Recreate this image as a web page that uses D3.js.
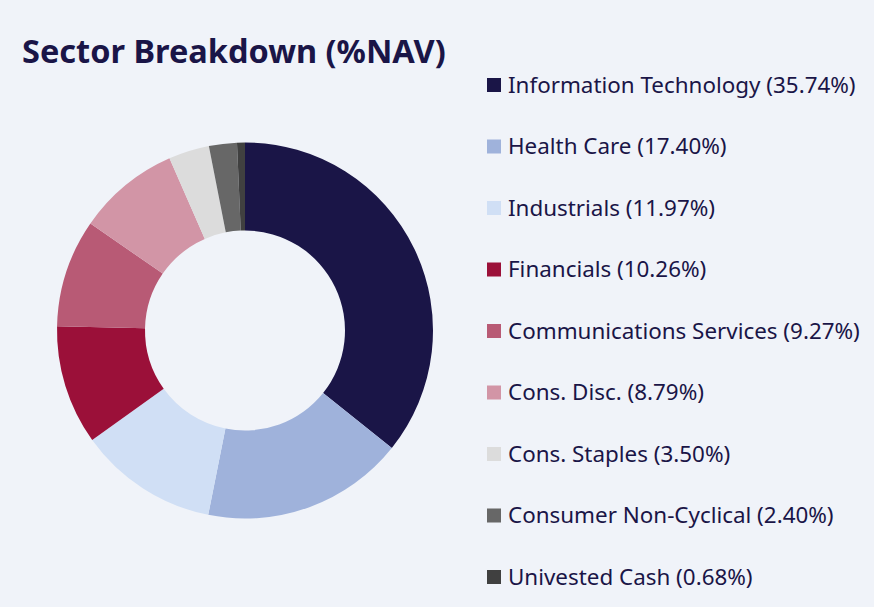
<!DOCTYPE html>
<html><head><meta charset="utf-8">
<script src="https://cdn.jsdelivr.net/npm/d3@7"></script>
<style>
html,body{margin:0;padding:0;background:#f0f3f9;}
svg{display:block;}
</style></head>
<body>
<svg id="chart" width="874" height="607"></svg>
<script>
const categories = ["Information Technology","Health Care","Industrials","Financials","Communications Services","Cons. Disc.","Cons. Staples","Consumer Non-Cyclical","Univested Cash"];
const values = [35.74,17.40,11.97,10.26,9.27,8.79,3.50,2.40,0.68];
const colors = ["#1a1547","#9fb2db","#d0dff5","#9b1039","#b85a75","#d295a6","#dcdcdc","#676767","#404040"];
const title = "Sector Breakdown (%NAV)";

const svg = d3.select("#chart");
const W = 874, H = 607;
svg.append("rect").attr("width",W).attr("height",H).attr("fill","#f0f3f9");

const font = "'Source Sans Pro','Noto Sans',Lato,sans-serif";
svg.append("text").attr("x",22).attr("y",63)
  .attr("font-family",font).attr("font-weight",700).attr("font-size",32.5)
  .attr("fill","#1a1547").text(title);

const data = categories.map((c,i)=>({name:c,value:values[i],color:colors[i]}));
const pie = d3.pie().value(d=>d.value).sort(null);
const arc = d3.arc().innerRadius(100).outerRadius(188);
const g = svg.append("g").attr("transform","translate(245,330.5)");
g.selectAll("path").data(pie(data)).join("path")
  .attr("d",arc).attr("fill",d=>d.data.color);

const legend = svg.append("g");
const rowY = d3.scalePoint().domain(categories).range([85,577]);
const items = legend.selectAll("g").data(data).join("g")
  .attr("transform",d=>`translate(487,${rowY(d.name)})`);
items.append("rect").attr("x",0).attr("y",-7).attr("width",14).attr("height",14).attr("fill",d=>d.color);
items.append("text").attr("x",21).attr("y",0).attr("dy","0.35em")
  .attr("font-family",font).attr("font-size",22.4).attr("fill","#1a1547")
  .text(d=>`${d.name} (${d.value.toFixed(2)}%)`);
</script>
</body></html>
